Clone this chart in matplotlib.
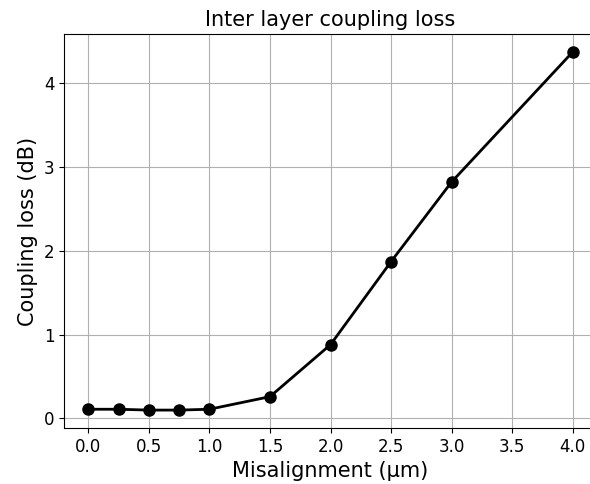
import matplotlib
matplotlib.use("Agg")
import matplotlib.pyplot as plt

# misalignment (um) vs coupling loss (dB)
misalignment = [0.0, 0.25, 0.5, 0.75, 1.0, 1.5, 2.0, 2.5, 3.0, 4.0]
coupling_loss = [0.11, 0.11, 0.10, 0.10, 0.11, 0.26, 0.88, 1.87, 2.82, 4.37]

fig = plt.figure(figsize=(5.9, 4.84), dpi=100)
ax = fig.add_axes([64 / 590, 56 / 484, 533 / 590, 394 / 484])

ax.plot(misalignment, coupling_loss, "o-", color="black", linewidth=2, markersize=8)

ax.set_title("Inter layer coupling loss", fontsize=15)
ax.set_xlabel("Misalignment (µm)", fontsize=15)
ax.set_ylabel("Coupling loss (dB)", fontsize=15)
ax.set_xticks([0.0, 0.5, 1.0, 1.5, 2.0, 2.5, 3.0, 3.5, 4.0])
ax.tick_params(labelsize=12)
ax.grid(True)

fig.savefig("out.png", dpi=100)
